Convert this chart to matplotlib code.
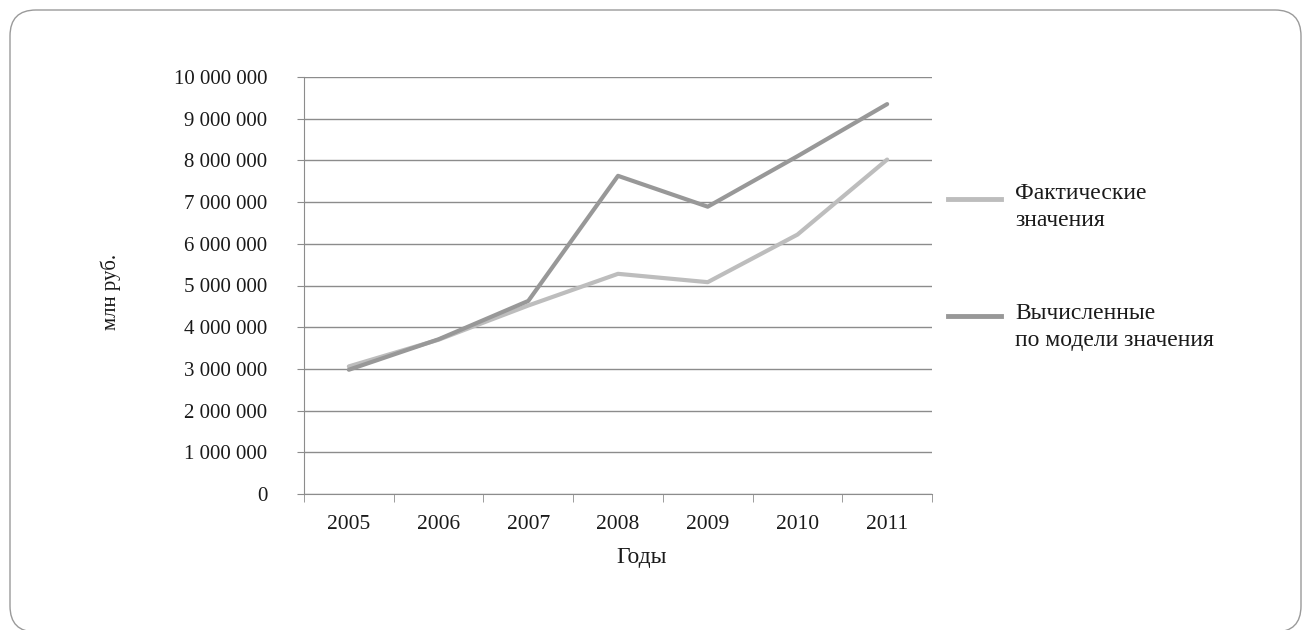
import matplotlib
matplotlib.use('Agg')
import matplotlib.pyplot as plt
from matplotlib.lines import Line2D
from matplotlib.patches import FancyBboxPatch
from matplotlib.transforms import IdentityTransform
from matplotlib.ticker import FuncFormatter

plt.rcParams['font.family'] = ['Liberation Serif', 'DejaVu Serif']

# Данные
years = ['2005', '2006', '2007', '2008', '2009', '2010', '2011']
fact = [3060000, 3700000, 4520000, 5280000, 5080000, 6220000, 8020000]
model = [2980000, 3710000, 4630000, 7630000, 6890000, 8100000, 9350000]
series_names = ['Фактические\nзначения', 'Вычисленные\nпо модели значения']

c_fact = '#bdbdbd'
c_model = '#989898'
c_grid = '#8c8c8c'
c_text = '#1a1a1a'

W, H = 1306, 630
fig = plt.figure(figsize=(W / 100, H / 100), dpi=100)

# рамка со скруглёнными углами (в пикселях, низ уходит за край)
frame = FancyBboxPatch((10, -2), 1291, 622,
                       boxstyle='round,pad=0,rounding_size=26',
                       transform=IdentityTransform(), fill=False,
                       edgecolor='#9a9a9a', linewidth=1.0)
fig.patches.append(frame)

ax = fig.add_axes([304 / W, 1 - 494 / H, (932 - 304) / W, (494 - 77) / H])

x = range(len(years))
ax.plot(x, fact, color=c_fact, linewidth=3, solid_capstyle='round')
ax.plot(x, model, color=c_model, linewidth=3, solid_capstyle='round')

ax.set_xlim(-0.5, len(years) - 0.5)
ax.set_ylim(0, 10000000)
ax.set_yticks(range(0, 10000001, 1000000))
ax.yaxis.set_major_formatter(FuncFormatter(lambda v, p: f'{int(v):,}'.replace(',', ' ')))
ax.grid(axis='y', color=c_grid, linewidth=1)

ax.set_xticks(list(x))
ax.set_xticklabels(years)
ax.set_xticks([i - 0.5 for i in range(len(years) + 1)], minor=True)
ax.tick_params(axis='x', which='major', length=0, pad=15, labelsize=15.5,
               labelcolor=c_text)
ax.tick_params(axis='x', which='minor', length=6, color=c_grid, direction='out')
ax.tick_params(axis='y', length=5, color=c_grid, pad=21.5, labelsize=15,
               labelcolor=c_text)

for s in ['top', 'right']:
    ax.spines[s].set_visible(False)
for s in ['left', 'bottom']:
    ax.spines[s].set_color(c_grid)

fig.text(642 / W, 1 - 557 / H, 'Годы', ha='center', va='center',
         fontsize=17, color=c_text)
fig.text(111 / W, 1 - 292 / H, 'млн руб.', ha='center', va='center',
         rotation=90, fontsize=15, color=c_text)

# легенда
for name, col, yy, top in [(series_names[0], c_fact, 199, 183),
                           (series_names[1], c_model, 316, 303)]:
    fig.add_artist(Line2D([948 / W, 1001 / W], [1 - yy / H, 1 - yy / H],
                          color=col, linewidth=3.5, transform=fig.transFigure))
    fig.text(1015 / W, 1 - top / H, name, ha='left', va='top',
             fontsize=17, linespacing=1.38, color=c_text)

fig.savefig('out.png', dpi=100, facecolor='white')
